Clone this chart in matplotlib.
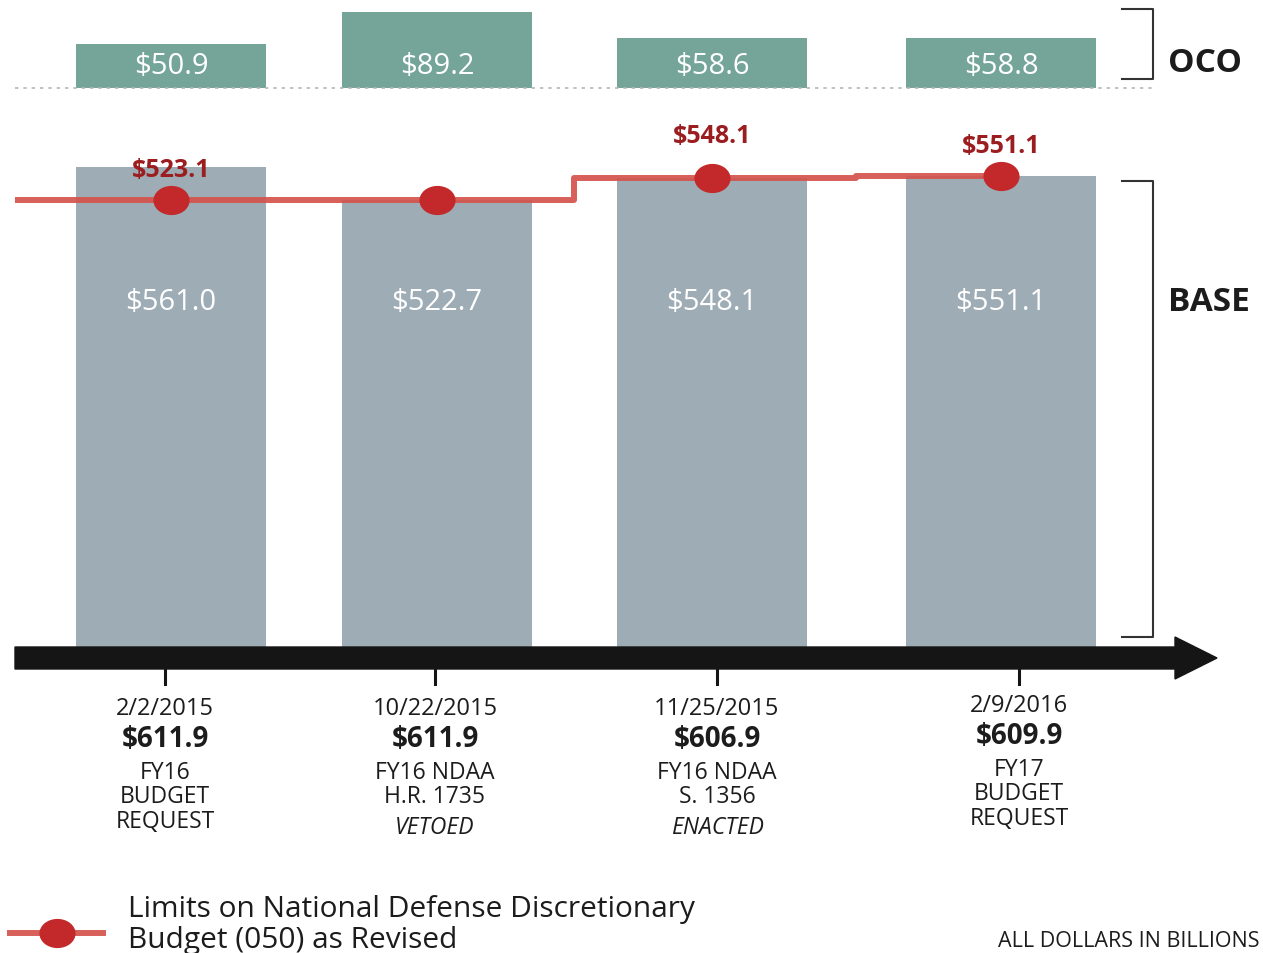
import matplotlib
matplotlib.use('Agg')
import matplotlib.pyplot as plt
import matplotlib.patches as mpatches
from matplotlib.lines import Line2D
from matplotlib.path import Path
from matplotlib.transforms import Affine2D, blended_transform_factory

# данные
dates = ['2/2/2015', '10/22/2015', '11/25/2015', '2/9/2016']
totals = ['$611.9', '$611.9', '$606.9', '$609.9']
descr = [['FY16', 'BUDGET', 'REQUEST'],
         ['FY16 NDAA', 'H.R. 1735'],
         ['FY16 NDAA', 'S. 1356'],
         ['FY17', 'BUDGET', 'REQUEST']]
status = ['', 'VETOED', 'ENACTED', '']
base = [561.0, 522.7, 548.1, 551.1]
oco = [50.9, 89.2, 58.6, 58.8]
limits = [523.1, 523.1, 548.1, 551.1]
limit_shown = [True, False, True, True]

# раскладка
W, H = 1263, 954
xpos = [0, 0.961, 1.955, 3.0]          # центры столбцов
px_x = 276.67                           # пикселей на единицу x
x0 = 171                                # пиксель центра первого столбца
px_y = 0.855                            # пикселей на миллиард
y0 = 648                                # пиксель нуля (сверху)
oco_base = (y0 - 89) / px_y             # линия отсчета OCO

c_oco = '#74a598'
c_base = '#9eadb5'
c_line = '#d4534c'
c_dot = '#c3282a'
c_lab = '#9b1d20'
c_txt = '#1c1c1c'

plt.rcParams['font.family'] = ['Open Sans', 'DejaVu Sans']

fig = plt.figure(figsize=(W / 100, H / 100), dpi=100)
ax = fig.add_axes([0, 0, 1, 1])
ax.set_xlim(-x0 / px_x, (W - x0) / px_x)
ax.set_ylim(-(H - y0) / px_y, y0 / px_y)
ax.axis('off')

P = Affine2D().scale(1 / W, -1 / H).translate(0, 1) + fig.transFigure
T = blended_transform_factory(ax.transData, P)


def dx(p):
    return (p - x0) / px_x


def txt(x, y, s, **kw):
    kw.setdefault('color', c_txt)
    kw.setdefault('ha', 'center')
    kw.setdefault('va', 'center')
    return fig.text(x, y, s, transform=P, **kw)


bw = 190 / px_x
# BASE
ax.bar(xpos, base, width=bw, color=c_base, zorder=1)
# OCO
ax.bar(xpos, oco, width=bw, bottom=oco_base, color=c_oco, zorder=1)
ax.hlines(oco_base, dx(15), dx(1155), colors='#b5b5b5', linestyles=(0, (2, 3)), lw=1.2, zorder=2)

for x, v in zip(xpos, base):
    ax.text(x, 303, f'${v:.1f}', transform=T, ha='center', va='center',
            color='white', fontsize=21)
for x, v in zip(xpos, oco):
    ax.text(x, 67, f'${v:.1f}', transform=T, ha='center', va='center',
            color='white', fontsize=21)

# ступенчатая линия лимитов
steps = [dx(15), (xpos[1] + xpos[2]) / 2, (xpos[2] + xpos[3]) / 2, xpos[3]]
ax.plot(steps, [limits[0], limits[2], limits[3], limits[3]], drawstyle='steps-post',
        color=c_line, lw=4.3, alpha=0.92, zorder=3, solid_capstyle='butt')

circ = Path.unit_circle()
ell = Path(circ.vertices * [1, 0.8], circ.codes)
ax.plot(xpos, limits, ls='none', marker=ell, ms=25, color=c_dot, zorder=4)

offs = [22, 0, 31, 22]
for x, v, show, o in zip(xpos, limits, limit_shown, offs):
    if show:
        ax.annotate(f'${v:.1f}', (x, v), xytext=(0, o), textcoords='offset points',
                    ha='center', va='center', color=c_lab, fontsize=18,
                    fontweight='bold', zorder=5)

# ось времени
arrow = mpatches.FancyArrow(15, 659, 1202, 0, width=22, head_width=42, head_length=42,
                            length_includes_head=True, color='#151515', transform=P)
fig.add_artist(arrow)

col_x = [165, 435, 717, 1019]
col_dy = [0, 0, 0, -3]
for i in range(4):
    cx = col_x[i]
    d = col_dy[i]
    fig.add_artist(Line2D([cx, cx], [660, 685], transform=P, color='#151515', lw=2.2))
    txt(cx, 709 + d, dates[i], fontsize=17)
    txt(cx, 740 + d, totals[i], fontsize=20, fontweight='bold')
    for j, line in enumerate(descr[i]):
        txt(cx, 773 + d + j * 24.5, line, fontsize=16.5)
    if status[i]:
        txt(cx, 828 + d, status[i], fontsize=16.5, style='italic')

# скобки
for top, bot in [(10, 80), (182, 638)]:
    fig.add_artist(Line2D([1122, 1153, 1153, 1122], [top, top, bot, bot], transform=P,
                          color='#333333', lw=1.5))
txt(1168, 64, 'OCO', ha='left', fontsize=24, fontweight='bold')
txt(1168, 303, 'BASE', ha='left', fontsize=24, fontweight='bold')

# легенда
fig.add_artist(Line2D([10, 103], [934, 934], transform=P, color=c_line, lw=4.3, alpha=0.92))
fig.add_artist(Line2D([57], [934], transform=P, ls='none', marker=ell, ms=25, color=c_dot))
txt(128, 910, 'Limits on National Defense Discretionary', ha='left', fontsize=21.5)
txt(128, 941, 'Budget (050) as Revised', ha='left', fontsize=21.5)
txt(1260, 942, 'ALL DOLLARS IN BILLIONS', ha='right', fontsize=15.5)

fig.savefig('out.png', dpi=100)
